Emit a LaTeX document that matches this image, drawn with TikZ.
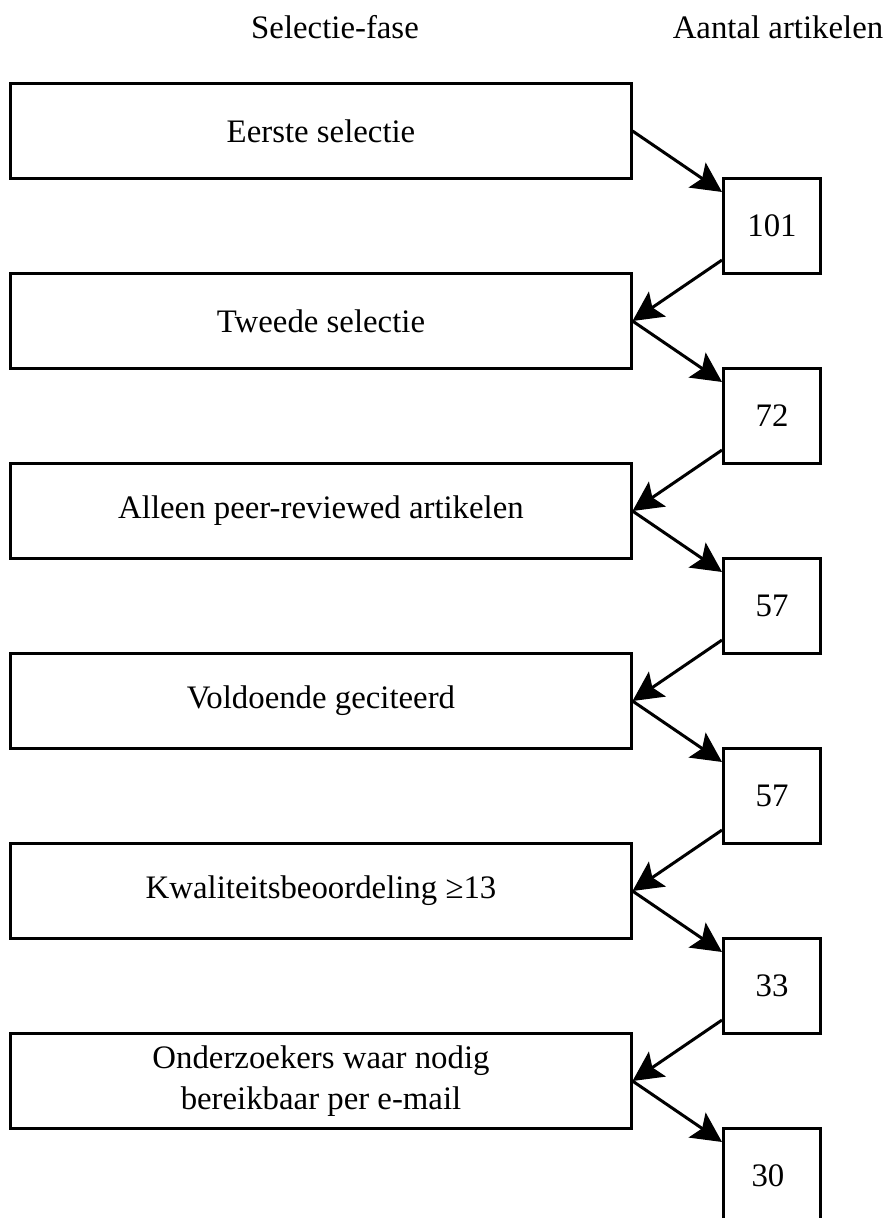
\documentclass[tikz,border=0pt]{standalone}
\usepackage{fontspec}
\setmainfont{Liberation Serif}
\usetikzlibrary{arrows.meta, positioning}
\tikzset{
  fasebox/.style={rectangle, draw=black, line width=0.09cm, fill=white,
    minimum height=2.85cm, minimum width=18.6cm, inner sep=0pt,
    align=center, font=\fontsize{28}{35}\selectfont},
  aantalbox/.style={rectangle, draw=black, line width=0.09cm, fill=white,
    minimum height=2.87cm, minimum width=2.91cm, inner sep=0pt,
    align=center, font=\fontsize{28}{35}\selectfont},
  kop/.style={font=\fontsize{28}{35}\selectfont},
  fasearrow/.style={-{Stealth[length=0.9cm, width=0.9cm, inset=0.18cm]}, line width=0.09cm}
}

\begin{document}
\begin{tikzpicture}[x=0.03cm, y=-0.03cm]
    \useasboundingbox (0,0) rectangle (886,1218);
    \node[kop] (kopFase) at (335,27) {Selectie-fase};
    \node[kop] (kopAantal) at (778,27) {Aantal artikelen};
    \foreach \i/\lbl/\n in {
        1/{Eerste selectie}/101,
        2/{Tweede selectie}/72,
        3/{Alleen peer-reviewed artikelen}/57,
        4/{Voldoende geciteerd}/57,
        5/{Kwaliteitsbeoordeling ≥13}/33,
        6/{Onderzoekers waar nodig\\bereikbaar per e-mail}/30
      }{
        \node[fasebox] (fase\i) at (321,{131+190*(\i-1)}) {\lbl};
        \node[aantalbox] (aantal\i) at (772,{226+190*(\i-1)}) {\n};
        \draw[fasearrow] (fase\i.east) -- (aantal\i);
      }
    \foreach \i/\j in {1/2, 2/3, 3/4, 4/5, 5/6}
      \draw[fasearrow] (aantal\i) -- (fase\j.east);
  \end{tikzpicture}
\end{document}
